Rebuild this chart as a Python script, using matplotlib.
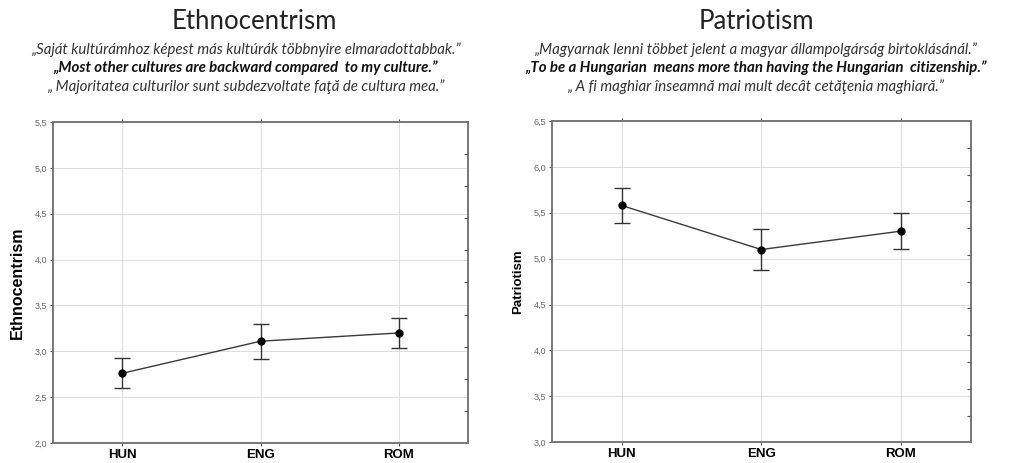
import numpy as np
import matplotlib
matplotlib.use("Agg")
import matplotlib.pyplot as plt
import matplotlib.ticker as ticker

groups = ["HUN", "ENG", "ROM"]

ethno_mean = [2.76, 3.11, 3.20]
ethno_err = [0.165, 0.19, 0.165]

patr_mean = [5.58, 5.10, 5.30]
patr_err = [0.195, 0.225, 0.195]

ethno_lines = ["\u201eSaját kultúrámhoz képest más kultúrák többnyire elmaradottabbak.\u201d",
               "\u201eMost other cultures are backward compared  to my culture.\u201d",
               "\u201e Majoritatea culturilor sunt subdezvoltate faţă de cultura mea.\u201d"]
patr_lines = ["\u201eMagyarnak lenni többet jelent a magyar állampolgárság birtoklásánál.\u201d",
              "\u201eTo be a Hungarian  means more than having the Hungarian  citizenship.\u201d",
              "\u201e A fi maghiar înseamnă mai mult decât cetăţenia maghiară.\u201d"]

fig = plt.figure(figsize=(10.1, 4.63), dpi=100)
fig.patch.set_facecolor("white")

panels = [
    dict(rect=[0.0525, 0.0432, 0.411, 0.6933], mean=ethno_mean, err=ethno_err,
         ylim=(2.0, 5.5), label="Ethnocentrism", lsize=11.5, title="Ethnocentrism",
         lines=ethno_lines, cx=0.2436, tx=0.252, ndiv=10),
    dict(rect=[0.5462, 0.0447, 0.4149, 0.694], mean=patr_mean, err=patr_err,
         ylim=(3.0, 6.5), label="Patriotism", lsize=9.5, title="Patriotism",
         lines=patr_lines, cx=0.7485, tx=0.7485, ndiv=12),
]

for p in panels:
    ax = fig.add_axes(p["rect"])
    x = np.arange(len(groups))
    ax.errorbar(x, p["mean"], yerr=p["err"], color="#3a3a3a", lw=1.0,
                marker="o", ms=5, mfc="black", mec="black",
                ecolor="#333333", elinewidth=1.0, capsize=6, capthick=1.0)
    ax.set_xlim(-0.5, 2.5)
    ax.set_ylim(*p["ylim"])
    ax.yaxis.set_major_locator(ticker.MultipleLocator(0.5))
    ax.yaxis.set_major_formatter(ticker.FuncFormatter(lambda v, pos: ("%.1f" % v).replace(".", ",")))
    ax.set_xticks(x)
    ax.set_xticklabels(groups, fontsize=9.5, fontweight="bold", family="Liberation Sans")
    for t in ax.get_yticklabels():
        t.set_fontsize(6.5)
        t.set_color("#666666")
        t.set_family(["Liberation Sans Narrow", "Liberation Sans"])
    ax.tick_params(axis="y", length=2, width=0.8, color="#555555", pad=2)
    ax.tick_params(axis="x", length=2, width=0.8, color="#555555", pad=2, top=True)
    ax.grid(True, color="#dddddd", lw=0.7)
    for s in ax.spines.values():
        s.set_color("#777777")
        s.set_linewidth(1.4)
    ax.set_ylabel(p["label"], fontsize=p["lsize"], fontweight="bold",
                  family="Liberation Sans", labelpad=7)

    # inner ticks on the right frame
    ax2 = ax.twinx()
    ax2.set_ylim(0, p["ndiv"])
    ax2.set_yticks(range(1, p["ndiv"]))
    ax2.tick_params(axis="y", direction="in", length=3, width=0.8, color="#555555",
                    labelright=False)
    for s in ax2.spines.values():
        s.set_visible(False)

    fig.text(p["tx"], 0.953, p["title"], ha="center", va="center", fontsize=18.5,
             family="Lato", color="#222222")
    ys = [0.892, 0.853, 0.812]
    for i, line in enumerate(p["lines"]):
        fig.text(p["cx"], ys[i], line, ha="center", va="center", fontsize=10.8,
                 family="Lato", style="italic",
                 fontweight="bold" if i == 1 else "normal",
                 color="#111111" if i == 1 else "#333333")

fig.savefig("out.png", dpi=100)
